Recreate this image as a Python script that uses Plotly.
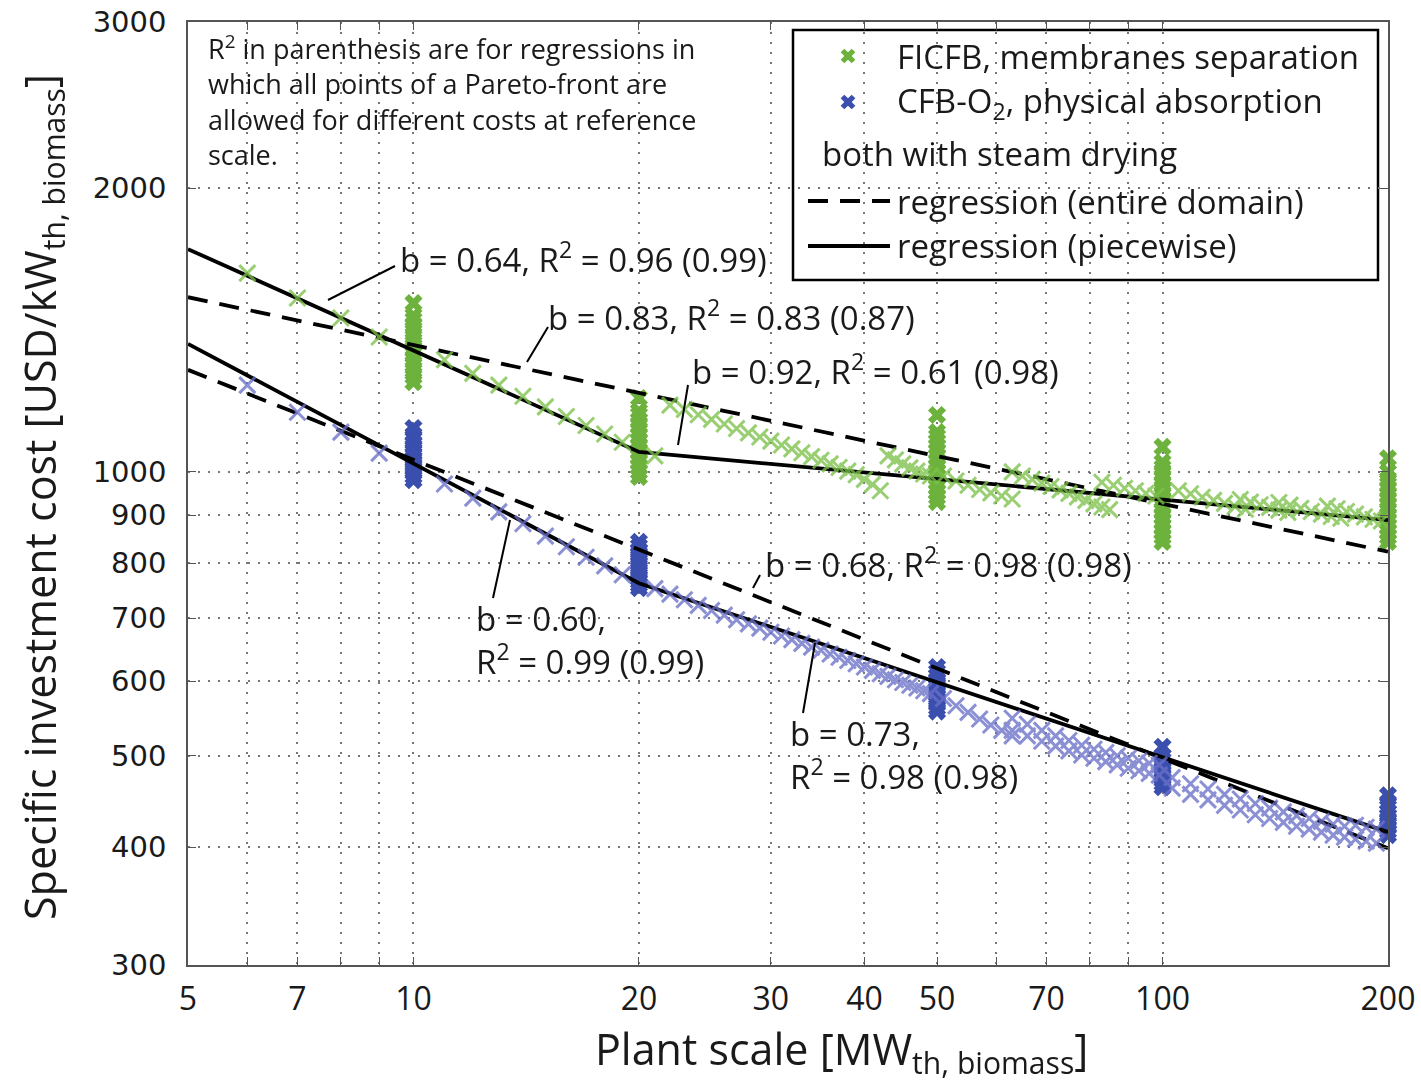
import math
import plotly.graph_objects as go

# ---------------- data ----------------
ref_scales = [5, 10, 20, 50, 100, 200]

# FICFB, membranes separation: Pareto-front columns at reference scales [USD/kW]
ficfb_col_5 = [1625, 1642, 1660, 1678, 1695, 1712, 1730, 1748, 1765, 1783, 1800, 1818, 1836, 1855, 1873, 1890, 1942]
ficfb_col_10 = [1245, 1262, 1280, 1298, 1316, 1334, 1352, 1370, 1390, 1410, 1430, 1450, 1465, 1510]
ficfb_col_20 = [988, 1000, 1012, 1025, 1038, 1051, 1064, 1078, 1092, 1106, 1120, 1135, 1150, 1160, 1198]
ficfb_col_50 = [929, 940, 952, 964, 976, 988, 1000, 1012, 1025, 1038, 1051, 1064, 1077, 1090, 1102, 1149]
ficfb_col_100 = [843, 853, 864, 875, 886, 897, 909, 921, 933, 945, 958, 971, 984, 997, 1011, 1024, 1063]
ficfb_col_200 = [843, 853, 864, 875, 886, 897, 909, 921, 933, 945, 958, 970, 983, 1000, 1034]

# FICFB scaled points between reference scales
ficfb_scale = [6, 7, 8, 9,
               11, 12, 13, 14, 15, 16, 17, 18, 19, 21,
               22, 23, 24, 25, 26, 27, 28, 29, 30, 31, 32, 33, 34, 35, 36, 37, 38, 39, 40, 41, 42,
               43, 44, 45, 46, 47, 48, 49,
               51, 53, 55, 57, 59, 61, 63,
               63, 65, 67, 69, 71, 73, 75, 77, 79, 81, 83, 85,
               83, 86, 89, 92, 95, 98,
               105, 109, 113, 117, 121, 125, 129,
               127, 131, 135, 139, 143, 147,
               143, 148, 153, 158, 163, 168, 173,
               166, 171, 176, 181, 186, 191, 196]
ficfb_cost = [1625, 1529, 1456, 1390,
              1315, 1272, 1236, 1203, 1172, 1145, 1120, 1097, 1075, 1040,
              1177, 1165, 1150, 1137, 1124, 1112, 1100, 1089, 1078, 1068, 1058, 1048, 1038, 1029, 1020, 1011, 1002, 993, 982, 970, 955,
              1040, 1030, 1020, 1010, 1002, 995, 990,
              990, 978, 968, 958, 950, 943, 936,
              1000, 990, 982, 973, 965, 957, 949, 941, 933, 925, 918, 912,
              975, 968, 961, 955, 949, 943,
              955, 948, 940, 933, 926, 919, 913,
              935, 929, 923, 917, 911, 906,
              928, 922, 915, 908, 902, 897, 893,
              920, 914, 908, 902, 896, 891, 887]

# CFB-O2, physical absorption: Pareto-front columns at reference scales
cfb_col_5 = [1308, 1322, 1336, 1350, 1364, 1378, 1392, 1406, 1420, 1434, 1448, 1462, 1476, 1490, 1505, 1521]
cfb_col_10 = [980, 989, 998, 1007, 1016, 1025, 1034, 1044, 1054, 1064, 1074, 1084, 1095, 1113]
cfb_col_20 = [753, 759, 765, 771, 777, 784, 791, 798, 805, 812, 819, 826, 834, 843]
cfb_col_50 = [557, 562, 567, 572, 577, 582, 587, 592, 597, 602, 608, 614, 621]
cfb_col_100 = [463, 467, 471, 475, 479, 483, 487, 491, 495, 500, 511]
cfb_col_200 = [412, 416, 420, 424, 428, 432, 436, 441, 446, 454]

cfb_scale = [6, 7, 8, 9,
             11, 12, 13, 14, 15, 16, 17, 18, 19,
             21, 22, 23, 24, 25, 26, 27, 28, 29, 30, 31, 32, 33, 34, 35, 36, 37, 38, 39, 40,
             41, 42, 43, 44, 45, 46, 47, 48, 49,
             51, 53, 55, 57, 59, 61, 63,
             63, 66, 69, 72, 75, 78, 81, 84, 87, 90, 93, 96, 99,
             63, 66, 69, 72, 75, 78, 81, 84, 87, 90, 93, 96, 99,
             103, 109, 115, 121, 127, 133, 139, 145, 151, 157, 163, 169, 175, 181, 187, 193,
             103, 109, 115, 121, 127, 133, 139, 145, 151, 157, 163, 169, 175, 181, 187, 193]
cfb_cost = [1236, 1157, 1102, 1047,
            971, 938, 907, 881, 855, 833, 812, 795, 778,
            752, 742, 732, 722, 713, 705, 697, 690, 683, 676, 670, 664, 658, 652, 647, 641, 636, 631, 626, 621,
            616, 611, 607, 602, 598, 594, 590, 586, 582,
            575, 565, 556, 547, 539, 532, 525,
            548, 540, 532, 525, 519, 513, 508, 504, 500, 497, 494, 491, 489,
            532, 525, 518, 512, 506, 501, 497, 493, 489, 485, 482, 479, 477,
            474, 467, 461, 455, 450, 445, 440, 436, 432, 429, 426, 423, 421, 422, 420, 418,
            462, 455, 449, 443, 438, 433, 429, 425, 421, 418, 415, 412, 410, 408, 406, 404]

# regressions
ficfb_all_scale = [5, 200]
ficfb_all_cost = [1532, 823]
ficfb_pw_scale = [5, 20, 200]
ficfb_pw_cost = [1723, 1050, 889]
cfb_all_scale = [5, 200]
cfb_all_cost = [1283, 399]
cfb_pw_scale = [5, 20, 200]
cfb_pw_cost = [1367, 762, 415]

x_tickvals = [5, 6, 7, 8, 9, 10, 20, 30, 40, 50, 60, 70, 80, 90, 100, 200]
x_ticktext = ['5', '', '7', '', '', '10', '20', '30', '40', '50', '', '70', '', '', '100', '200']
y_tickvals = [300, 400, 500, 600, 700, 800, 900, 1000, 2000, 3000]
y_ticktext = ['300', '400', '500', '600', '700', '800', '900', '1000', '2000', '3000']

# ---------------- styling ----------------
GREEN_COL = '#6cb23c'
GREEN_PT = '#7cc24a'
BLUE_COL = '#3b4fae'
BLUE_PT = '#6a70c8'
FONT = 'Open Sans'
TXT = '#1a1a1a'

# plot-area pixel geometry -> paper coordinates
L, R, T, B = 188, 1388, 22, 965
def PX(p):
    return (p - L) / (R - L)
def PY(p):
    return (B - p) / (B - T)

fig = go.Figure()

def columns(scales, cols):
    xs, ys = [], []
    for s, c in zip(scales, cols):
        xs += [s] * len(c)
        ys += c
    return xs, ys

gx, gy = columns(ref_scales, [ficfb_col_5, ficfb_col_10, ficfb_col_20, ficfb_col_50, ficfb_col_100, ficfb_col_200])
bx, by = columns(ref_scales, [cfb_col_5, cfb_col_10, cfb_col_20, cfb_col_50, cfb_col_100, cfb_col_200])

fig.add_trace(go.Scatter(x=gx, y=gy, mode='markers', cliponaxis=False, showlegend=False,
                         marker=dict(symbol='x', size=16, color=GREEN_COL, line=dict(width=0))))
fig.add_trace(go.Scatter(x=bx, y=by, mode='markers', cliponaxis=False, showlegend=False,
                         marker=dict(symbol='x', size=16, color=BLUE_COL, line=dict(width=0))))

for xs, ys, dash in [(ficfb_all_scale, ficfb_all_cost, '20px,12px'),
                     (cfb_all_scale, cfb_all_cost, '20px,12px'),
                     (ficfb_pw_scale, ficfb_pw_cost, 'solid'),
                     (cfb_pw_scale, cfb_pw_cost, 'solid')]:
    fig.add_trace(go.Scatter(x=xs, y=ys, mode='lines', showlegend=False,
                             line=dict(color='black', width=3.8, dash=dash)))

fig.add_trace(go.Scatter(x=ficfb_scale, y=ficfb_cost, mode='markers', cliponaxis=False, showlegend=False,
                         opacity=0.78,
                         marker=dict(symbol='x-thin', size=16, line=dict(width=3, color=GREEN_PT))))
fig.add_trace(go.Scatter(x=cfb_scale, y=cfb_cost, mode='markers', cliponaxis=False, showlegend=False,
                         opacity=0.78,
                         marker=dict(symbol='x-thin', size=16, line=dict(width=3, color=BLUE_PT))))

# legend markers on an overlay axis spanning the plot area
fig.add_trace(go.Scatter(x=[PX(848)], y=[PY(56)], xaxis='x2', yaxis='y2', mode='markers', showlegend=False,
                         marker=dict(symbol='x', size=13, color=GREEN_COL, line=dict(width=0))))
fig.add_trace(go.Scatter(x=[PX(848)], y=[PY(102)], xaxis='x2', yaxis='y2', mode='markers', showlegend=False,
                         marker=dict(symbol='x', size=13, color=BLUE_COL, line=dict(width=0))))

shapes = []
# legend box and line samples
shapes.append(dict(type='rect', xref='paper', yref='paper', x0=PX(793), x1=PX(1378), y0=PY(280), y1=PY(30),
                   line=dict(color='black', width=2.5), fillcolor='white', layer='between'))
shapes.append(dict(type='line', xref='paper', yref='paper', x0=PX(808), x1=PX(890), y0=PY(201), y1=PY(201),
                   line=dict(color='black', width=3.8, dash='20px,12px')))
shapes.append(dict(type='line', xref='paper', yref='paper', x0=PX(808), x1=PX(890), y0=PY(246), y1=PY(246),
                   line=dict(color='black', width=3.8)))
# leader lines for regression labels
for (a, b, c, d) in [(395, 266, 328, 300), (548, 327, 527, 362), (688, 385, 678, 445),
                     (760, 575, 753, 588), (493, 598, 510, 520), (803, 713, 815, 643)]:
    shapes.append(dict(type='line', xref='paper', yref='paper', x0=PX(a), y0=PY(b), x1=PX(c), y1=PY(d),
                       line=dict(color='black', width=2)))

ann = []
def text(x, y, s, size=33, anchor='left', **kw):
    ann.append(dict(x=PX(x), y=PY(y), xref='paper', yref='paper', text=s, showarrow=False,
                    xanchor=anchor, yanchor='middle', align='left',
                    font=dict(family=FONT, size=size, color=TXT), **kw))

text(895, 57, 'FICFB, membranes separation')
text(895, 102, 'CFB-O<sub>2</sub>, physical absorption')
text(820, 153, 'both with steam drying')
text(895, 201, 'regression (entire domain)')
text(895, 246, 'regression (piecewise)')

text(206, 101, 'R<sup>2</sup> in parenthesis are for regressions in<br>which all points of a Pareto-front are<br>'
               'allowed for different costs at reference<br>scale.', size=27)

text(398, 257, 'b = 0.64, R<sup>2</sup> = 0.96 (0.99)')
text(546, 315, 'b = 0.83, R<sup>2</sup> = 0.83 (0.87)')
text(690, 370, 'b = 0.92, R<sup>2</sup> = 0.61 (0.98)')
text(763, 562, 'b = 0.68, R<sup>2</sup> = 0.98 (0.98)')
text(474, 640, 'b = 0.60,<br>R<sup>2</sup> = 0.99 (0.99)')
text(788, 755, 'b = 0.73,<br>R<sup>2</sup> = 0.98 (0.98)')

# axis titles
ann.append(dict(x=PX(841), y=PY(1051), xref='paper', yref='paper', showarrow=False,
                text='Plant scale [MW<sub>th, biomass</sub>]', xanchor='center', yanchor='middle',
                font=dict(family=FONT, size=43, color=TXT)))
ann.append(dict(x=PX(42), y=PY(497), xref='paper', yref='paper', showarrow=False, textangle=-90,
                text='Specific investment cost [USD/kW<sub>th, biomass</sub>]', xanchor='center', yanchor='middle',
                font=dict(family=FONT, size=43, color=TXT)))

grid = dict(showgrid=True, gridcolor='#777', gridwidth=1.5, griddash='2px,8px')
axis_common = dict(type='log', showline=True, linecolor='#555', linewidth=1.5, mirror='ticks',
                   ticks='inside', ticklen=8, tickcolor='#555', zeroline=False, automargin=False, **grid)

fig.update_layout(
    width=1421, height=1082,
    margin=dict(l=L, r=1421 - R, t=T, b=1082 - B, autoexpand=False),
    paper_bgcolor='white', plot_bgcolor='white',
    showlegend=False,
    xaxis=dict(range=[math.log10(5), math.log10(200)], tickvals=x_tickvals, ticktext=x_ticktext,
               tickfont=dict(family=FONT, size=32, color=TXT), ticklabelstandoff=5, **axis_common),
    yaxis=dict(range=[math.log10(300), math.log10(3000)], tickvals=y_tickvals, ticktext=y_ticktext,
               tickfont=dict(family='DejaVu Sans', size=29, color=TXT), ticklabelstandoff=14, **axis_common),
    xaxis2=dict(overlaying='x', range=[0, 1], visible=False),
    yaxis2=dict(overlaying='y', range=[0, 1], visible=False),
    shapes=shapes,
    annotations=ann,
)

fig.write_html('out.html')
